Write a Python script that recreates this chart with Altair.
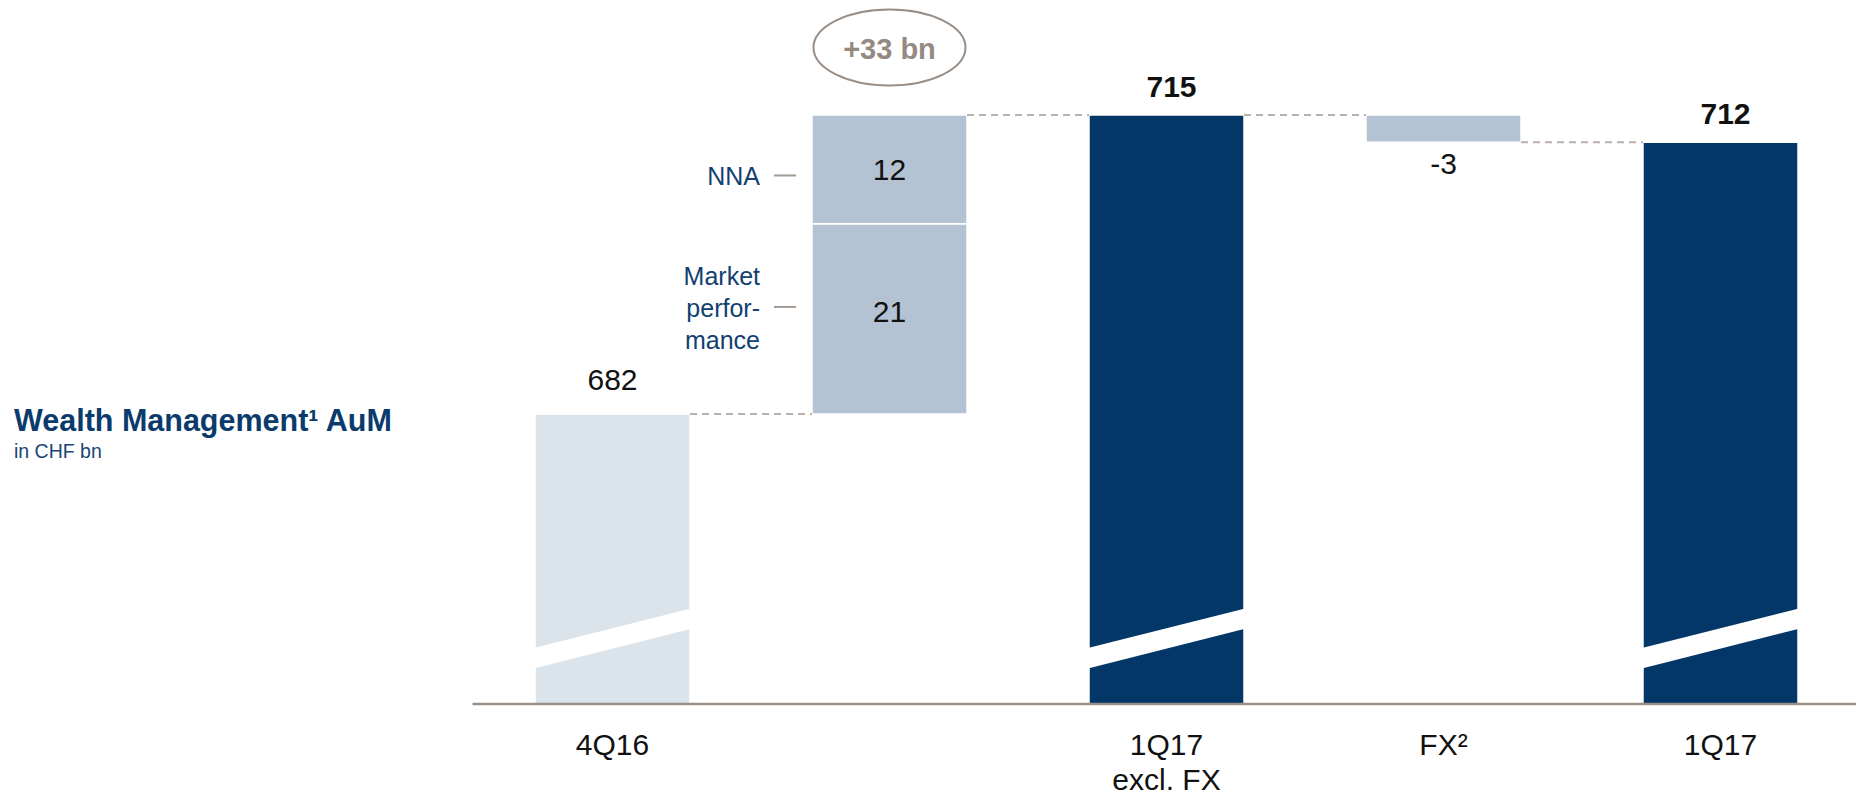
import altair as alt
import pandas as pd

# ---------------- data (CHF bn) ----------------
categories = ["4Q16", "", "1Q17\nexcl. FX", "FX²", "1Q17"]
start_value = 682
nna_value = 12
market_value = 21
total_excl_fx = 715
fx_value = -3
end_value = 712
net_change_label = "+33 bn"
title_text = "Wealth Management¹ AuM"
subtitle_text = "in CHF bn"

# ---------------- style / layout constants ----------------
BASE = 650          # truncated (broken) axis baseline
PX_X = 277.0        # pixels per category slot
PX_Y = 9.06         # pixels per CHF bn
HW = 155 / PX_X / 2 # half bar width in category units
W = 1379
H = 680
X_MAX = -0.5 + W / PX_X
TOP = BASE + H / PX_Y
BREAK_AT = 657.2    # vertical position of the break marks

C_START = "#dce4eb"
C_CHANGE = "#b3c3d3"
C_TOTAL = "#033767"
C_NAVY = "#12406f"
C_TEXT = "#111111"
C_BROWN = "#9a8f87"
C_DASH = "#bab1aa"
FONT = "Liberation Sans"

xs = alt.Scale(domain=[-0.5, X_MAX], nice=False, zero=False)
ys = alt.Scale(domain=[BASE, TOP], nice=False, zero=False)

# ---------------- derived tables ----------------
bars = pd.DataFrame([
    dict(i=0, lo=BASE, hi=start_value, kind="start"),
    dict(i=1, lo=start_value, hi=start_value + market_value, kind="change"),
    dict(i=1, lo=start_value + market_value, hi=start_value + market_value + nna_value, kind="change"),
    dict(i=2, lo=BASE, hi=total_excl_fx, kind="total"),
    dict(i=3, lo=total_excl_fx + fx_value, hi=total_excl_fx, kind="change"),
    dict(i=4, lo=BASE, hi=end_value, kind="total"),
])
bars["x0"] = bars["i"] - HW
bars["x1"] = bars["i"] + HW

bar_layer = alt.Chart(bars).mark_rect(stroke="white", strokeWidth=1.5).encode(
    x=alt.X("x0:Q", scale=xs, axis=None),
    x2="x1:Q",
    y=alt.Y("lo:Q", scale=ys, axis=None),
    y2="hi:Q",
    color=alt.Color("kind:N", legend=None,
                    scale=alt.Scale(domain=["start", "change", "total"],
                                    range=[C_START, C_CHANGE, C_TOTAL])),
)

# break marks (white slanted stripes)
breaks = pd.DataFrame({"i": [0, 2, 4], "y": [BREAK_AT] * 3})
stripe_path = "M -1.02 0.123 L 1.02 -0.392 L 1.02 -0.132 L -1.02 0.383 Z"
break_layer = alt.Chart(breaks).mark_point(
    shape=stripe_path, filled=True, size=156 * 156, color="white",
    opacity=1, strokeWidth=0
).encode(x=alt.X("i:Q", scale=xs), y=alt.Y("y:Q", scale=ys))

# dashed connectors
conn = pd.DataFrame([
    dict(xa=0 + HW, xb=1 - HW, level=start_value),
    dict(xa=1 + HW, xb=2 - HW, level=total_excl_fx),
    dict(xa=2 + HW, xb=3 - HW, level=total_excl_fx),
    dict(xa=3 + HW, xb=4 - HW, level=end_value),
])
conn_layer = alt.Chart(conn).mark_rule(
    color=C_DASH, strokeWidth=2, strokeDash=[7, 5]
).encode(x=alt.X("xa:Q", scale=xs), x2="xb:Q", y=alt.Y("level:Q", scale=ys))

# baseline (axis line)
axis_df = pd.DataFrame({"xa": [-0.5 - 1.5 / PX_X], "xb": [X_MAX + 3 / PX_X], "y": [BASE]})
axis_layer = alt.Chart(axis_df).mark_rule(color=C_BROWN, strokeWidth=2.5).encode(
    x=alt.X("xa:Q", scale=xs), x2="xb:Q", y=alt.Y("y:Q", scale=ys))


def text_layer(df, dy=0, dx=0, size=30, weight="normal", color=C_TEXT,
               align="center", line_height=None):
    kw = dict(dy=dy, dx=dx, fontSize=size, fontWeight=weight, color=color,
              align=align, baseline="alphabetic", font=FONT, lineBreak="\n")
    if line_height:
        kw["lineHeight"] = line_height
    return alt.Chart(pd.DataFrame(df)).mark_text(**kw).encode(
        x=alt.X("x:Q", scale=xs), y=alt.Y("y:Q", scale=ys), text="t:N")


nna_mid = start_value + market_value + nna_value / 2
mkt_mid = start_value + market_value / 2

labels = [
    text_layer({"x": [0], "y": [start_value], "t": [str(start_value)]}, dy=-24),
    text_layer({"x": [2, 4], "y": [total_excl_fx, end_value],
                "t": [str(total_excl_fx), str(end_value)]}, dy=-18, dx=5, weight="bold"),
    text_layer({"x": [3], "y": [total_excl_fx + fx_value], "t": [str(fx_value)]}, dy=32),
    text_layer({"x": [1], "y": [nna_mid], "t": [str(nna_value)]}, dy=11),
    text_layer({"x": [1], "y": [mkt_mid], "t": [str(market_value)]}, dy=3),
    # category labels
    text_layer({"x": list(range(len(categories))), "y": [BASE] * len(categories),
                "t": categories}, dy=51, line_height=35),
    # side labels
    text_layer({"x": [1 - HW], "y": [nna_mid], "t": ["NNA"]}, dy=16, dx=-52,
               size=25, color=C_NAVY, align="right"),
    text_layer({"x": [1 - HW], "y": [mkt_mid], "t": ["Market\nperfor-\nmance"]},
               dy=-34, dx=-52, size=25, color=C_NAVY, align="right", line_height=32),
]

# small leader dashes next to side labels
leaders = pd.DataFrame({
    "xa": [1 - HW - 38 / PX_X] * 2,
    "xb": [1 - HW - 16 / PX_X] * 2,
    "y": [nna_mid - 6 / PX_Y, mkt_mid + 12 / PX_Y],
})
leader_layer = alt.Chart(leaders).mark_rule(color="#a39a93", strokeWidth=2).encode(
    x=alt.X("xa:Q", scale=xs), x2="xb:Q", y=alt.Y("y:Q", scale=ys))

# oval with the net change
plot_left = 474
plot_top = 704 - H
oval_y = BASE + (704 - 47.5) / PX_Y
oval_df = pd.DataFrame({"x": [1], "y": [oval_y], "t": [net_change_label]})
ry = 76 / 152
oval_path = f"M -1 0 A 1 {ry} 0 1 1 1 0 A 1 {ry} 0 1 1 -1 0 Z"
oval_layer = alt.Chart(oval_df).mark_point(
    shape=oval_path, filled=False, size=152 * 152, stroke=C_BROWN,
    strokeWidth=2, opacity=1
).encode(x=alt.X("x:Q", scale=xs), y=alt.Y("y:Q", scale=ys))
oval_text = alt.Chart(oval_df).mark_text(
    fontSize=29, fontWeight="bold", color="#948a82", font=FONT,
    baseline="alphabetic", dy=11.5
).encode(x=alt.X("x:Q", scale=xs), y=alt.Y("y:Q", scale=ys), text="t:N")

# left title block
title_layer = alt.Chart(pd.DataFrame({"t": [title_text]})).mark_text(
    fontSize=30.5, fontWeight="bold", color="#0b3b6c", font=FONT,
    align="left", baseline="alphabetic"
).encode(x=alt.value(14 - plot_left), y=alt.value(431 - plot_top), text="t:N")
subtitle_layer = alt.Chart(pd.DataFrame({"t": [subtitle_text]})).mark_text(
    fontSize=19.5, color="#1b4674", font=FONT, align="left", baseline="alphabetic"
).encode(x=alt.value(14 - plot_left), y=alt.value(458 - plot_top), text="t:N")

chart = alt.layer(
    bar_layer, break_layer, conn_layer, axis_layer, leader_layer,
    oval_layer, oval_text, title_layer, subtitle_layer, *labels
).properties(
    width=W, height=H,
    autosize=alt.AutoSizeParams(type="none"),
    padding={"left": plot_left - 8, "top": plot_top - 8,
             "right": 1848 - (plot_left - 8) - W, "bottom": 93},
).configure_view(stroke=None)

chart.save("out.html", embed_options={"renderer": "svg", "actions": False})
